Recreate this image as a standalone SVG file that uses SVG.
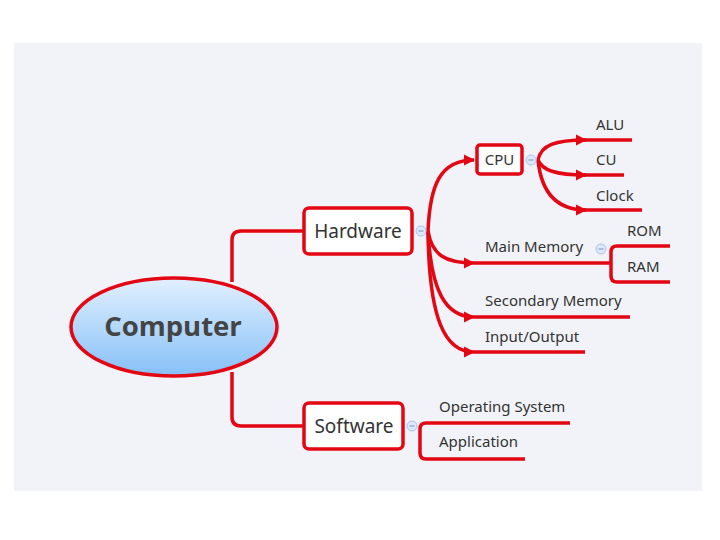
<svg xmlns="http://www.w3.org/2000/svg" width="720" height="540" viewBox="0 0 720 540">
<defs>
<linearGradient id="g" x1="0" y1="0" x2="0" y2="1"><stop offset="0" stop-color="#e2f0ff"/><stop offset="1" stop-color="#86c0f7"/></linearGradient>
<marker id="a" viewBox="0 0 10 10" refX="9" refY="5" markerWidth="3.2" markerHeight="3.2" orient="auto" markerUnits="strokeWidth"><path d="M0,0 L10,5 L0,10 z" fill="#e30613"/></marker>
<style>
.c{fill:none;stroke:#e30613;stroke-width:3.5;stroke-linecap:butt}
.b{fill:#fff;stroke:#e30613;stroke-width:3.5}
.t{font-family:"Noto Sans","Open Sans",sans-serif;fill:#333}
.s{font-size:15px}
.k{fill:#dce8fb;stroke:#a9c4ee;stroke-width:1}
.m{stroke:#7a95c4;stroke-width:1}
</style>
</defs>
<rect x="0" y="0" width="720" height="540" fill="#fff"/>
<rect x="14" y="43" width="688" height="448" fill="#f2f3f8"/>
<g id="connectors">
<path class="c" d="M232,282 V240 Q232,231 241,231 H305"/>
<path class="c" d="M232,372 V417 Q232,426 241,426 H305"/>
<path class="c" d="M428,231 C430,185 440,160 474,160" marker-end="url(#a)"/>
<path class="c" d="M428,231 C432,255 445,263 474,263" marker-end="url(#a)"/>
<path class="c" d="M428,231 C431,290 445,317 474,317" marker-end="url(#a)"/>
<path class="c" d="M428,231 C429,320 445,352 474,352" marker-end="url(#a)"/>
<path class="c" d="M538,160 C541,145 555,140 586,140" marker-end="url(#a)"/>
<path class="c" d="M538,160 C542,170 555,175 586,175" marker-end="url(#a)"/>
<path class="c" d="M538,160 C541,190 555,210 586,210" marker-end="url(#a)"/>
<path class="c" d="M584,140 H632 M584,175 H624 M584,210 H642"/>
<path class="c" d="M474,263 H611 M474,317 H630 M474,352 H585"/>
<path class="c" d="M670,246 H617 Q611,246 611,252 V276 Q611,282 617,282 H670"/>
<path class="c" d="M570,423 H426 Q420,423 420,429 V453 Q420,459 426,459 H525"/>
</g>
<g id="computer">
<ellipse cx="174" cy="327" rx="103" ry="49" fill="url(#g)" stroke="#e30613" stroke-width="3.5"/>
<text x="173" y="336" text-anchor="middle" font-family="'Open Sans','Noto Sans',sans-serif" font-weight="bold" font-size="27.5" fill="#444">Computer</text>
</g>
<g id="hardware">
<rect class="b" x="304" y="208" width="108" height="46" rx="5"/>
<text class="t" x="358" y="238" text-anchor="middle" font-size="19">Hardware</text>
<circle class="k" cx="421" cy="231" r="5"/><path class="m" d="M418.5,231 H423.5"/>
</g>
<g id="software">
<rect class="b" x="304" y="403" width="99" height="46" rx="5"/>
<text class="t" x="354" y="433" text-anchor="middle" font-size="19">Software</text>
<circle class="k" cx="412" cy="426" r="5"/><path class="m" d="M409.5,426 H414.5"/>
</g>
<g id="cpu">
<rect class="b" x="477" y="145" width="45" height="29" rx="3"/>
<text class="t" x="499.5" y="165" text-anchor="middle" font-size="15">CPU</text>
<circle class="k" cx="531" cy="160" r="5"/><path class="m" d="M528.5,160 H533.5"/>
</g>
<g id="alu"><text class="t s" x="596" y="130">ALU</text></g>
<g id="cu"><text class="t s" x="596" y="165">CU</text></g>
<g id="clock"><text class="t s" x="596" y="201">Clock</text></g>
<g id="mainmemory"><text class="t s" x="485" y="252">Main Memory</text><circle class="k" cx="601" cy="249" r="5"/><path class="m" d="M598.5,249 H603.5"/></g>
<g id="rom"><text class="t s" x="627" y="236">ROM</text></g>
<g id="ram"><text class="t s" x="627" y="272">RAM</text></g>
<g id="secondary"><text class="t s" x="485" y="306">Secondary Memory</text></g>
<g id="io"><text class="t s" x="485" y="342">Input/Output</text></g>
<g id="os"><text class="t s" x="439" y="412">Operating System</text></g>
<g id="app"><text class="t s" x="439" y="447">Application</text></g>
</svg>
